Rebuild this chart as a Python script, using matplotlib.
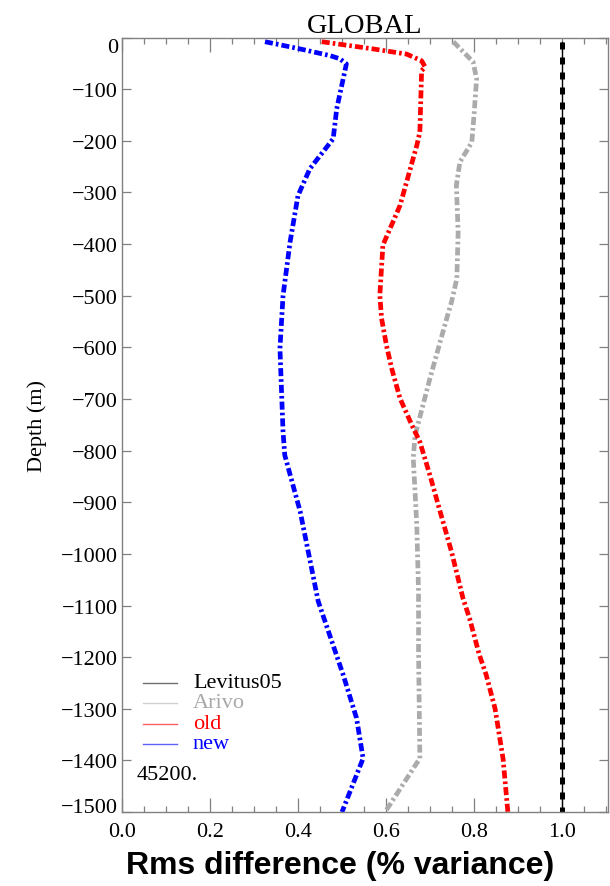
import numpy as np
import matplotlib
matplotlib.use('Agg')
import matplotlib.pyplot as plt
from matplotlib.ticker import MultipleLocator

# series (x = rms difference, y = depth in m)
lev_depth = [-8, -1500]
lev_val = [1.0, 1.0]

arivo_depth = [-8, -47, -80, -151, -203, -241, -286, -377, -467, -512, -544, -602,
               -660, -725, -771, -815, -879, -944, -1073, -1189, -1396, -1500]
arivo_val = [0.753, 0.798, 0.806, 0.800, 0.795, 0.768, 0.760, 0.764, 0.761, 0.749, 0.738, 0.719,
             0.700, 0.680, 0.666, 0.662, 0.666, 0.670, 0.674, 0.674, 0.677, 0.598]

old_depth = [-8, -22, -32, -45, -57, -64, -183, -209, -325, -402, -499, -544, -596, -641,
             -699, -751, -783, -848, -918, -996, -1086, -1125, -1195, -1235, -1300, -1396, -1500]
old_val = [0.454, 0.571, 0.647, 0.681, 0.689, 0.681, 0.677, 0.670, 0.632, 0.593, 0.586, 0.590,
           0.601, 0.613, 0.632, 0.659, 0.677, 0.700, 0.723, 0.749, 0.775, 0.790, 0.812, 0.828,
           0.848, 0.866, 0.877]

new_depth = [-8, -22, -35, -41, -51, -138, -196, -254, -306, -396, -500, -602, -763, -809,
             -918, -1092, -1235, -1318, -1396, -1500]
new_val = [0.325, 0.405, 0.473, 0.495, 0.510, 0.488, 0.480, 0.427, 0.400, 0.382, 0.366, 0.359,
           0.366, 0.370, 0.405, 0.446, 0.503, 0.533, 0.548, 0.500]

depth_ticks = np.arange(-1500, 1, 100)
rms_ticks = [0.0, 0.2, 0.4, 0.6, 0.8, 1.0]

labels = ['Levitus05', 'Arivo', 'old', 'new']
text_cols = ['black', '#a8a8a8', 'red', 'blue']
leg_cols = ['#707070', '#d0d0d0', '#ff6060', '#6060ff']
note = '45200.'

serif = 'Liberation Serif'
dashdot = (0, (1.7, 0.65, 0.55, 0.65))

fig = plt.figure(figsize=(6.10, 8.87), dpi=100)
ax = fig.add_axes([0.2, 0.0834, 0.797, 0.8731])

ax.plot(lev_val, lev_depth, color='black', lw=1.0)
ax.plot(lev_val, lev_depth, color='black', lw=3.6, linestyle=(0, (1.4, 1.6)))
ax.plot(arivo_val, arivo_depth, color='#ababab', lw=3.4, linestyle=dashdot)
ax.plot(old_val, old_depth, color='red', lw=3.4, linestyle=dashdot)
ax.plot(new_val, new_depth, color='blue', lw=3.4, linestyle=dashdot)

ax.set_xlim(0, 1.105)
ax.set_ylim(-1500, 0)
ax.set_xticks(rms_ticks)
ax.xaxis.set_minor_locator(MultipleLocator(0.05))
ax.set_yticks(depth_ticks)
ax.xaxis.set_major_formatter(matplotlib.ticker.FormatStrFormatter('%.1f'))

for s in ax.spines.values():
    s.set_color('#808080')
    s.set_linewidth(1.0)
ax.tick_params(which='both', direction='in', top=True, right=True, color='#808080',
               labelsize=16, width=0.9)
ax.tick_params(axis='x', which='major', length=10, pad=7.5)
ax.tick_params(axis='x', which='minor', length=4.5)
ax.tick_params(axis='y', which='major', length=6.5, pad=3)
for lab in ax.get_xticklabels() + ax.get_yticklabels():
    lab.set_fontfamily(serif)
ylabs = ax.get_yticklabels()
ylabs[0].set_verticalalignment('baseline')
ylabs[-1].set_verticalalignment('top')

ax.set_title('GLOBAL', fontfamily=serif, fontsize=20.5, pad=3)
ax.set_ylabel('Depth (m)', fontfamily=serif, fontsize=16, labelpad=10)
ax.set_xlabel('Rms difference (% variance)', fontfamily='Liberation Sans',
              fontweight='bold', fontsize=23)
ax.xaxis.set_label_coords(0.449, -0.0684)
ax.xaxis.label.set_verticalalignment('center')

# hand-made legend like the original
row_y = [0.167, 0.141, 0.114, 0.088]
for lab, tc, lc, yy in zip(labels, text_cols, leg_cols, row_y):
    ax.plot([0.043, 0.113], [yy, yy], color=lc, lw=1.0, transform=ax.transAxes)
    ax.text(0.146, yy, lab, color=tc, fontfamily=serif, fontsize=16,
            va='center', ha='left', transform=ax.transAxes)
ax.text(0.031, 0.049, note, fontfamily=serif, fontsize=16, va='center', ha='left',
        transform=ax.transAxes)

fig.savefig('out.png', dpi=100)
